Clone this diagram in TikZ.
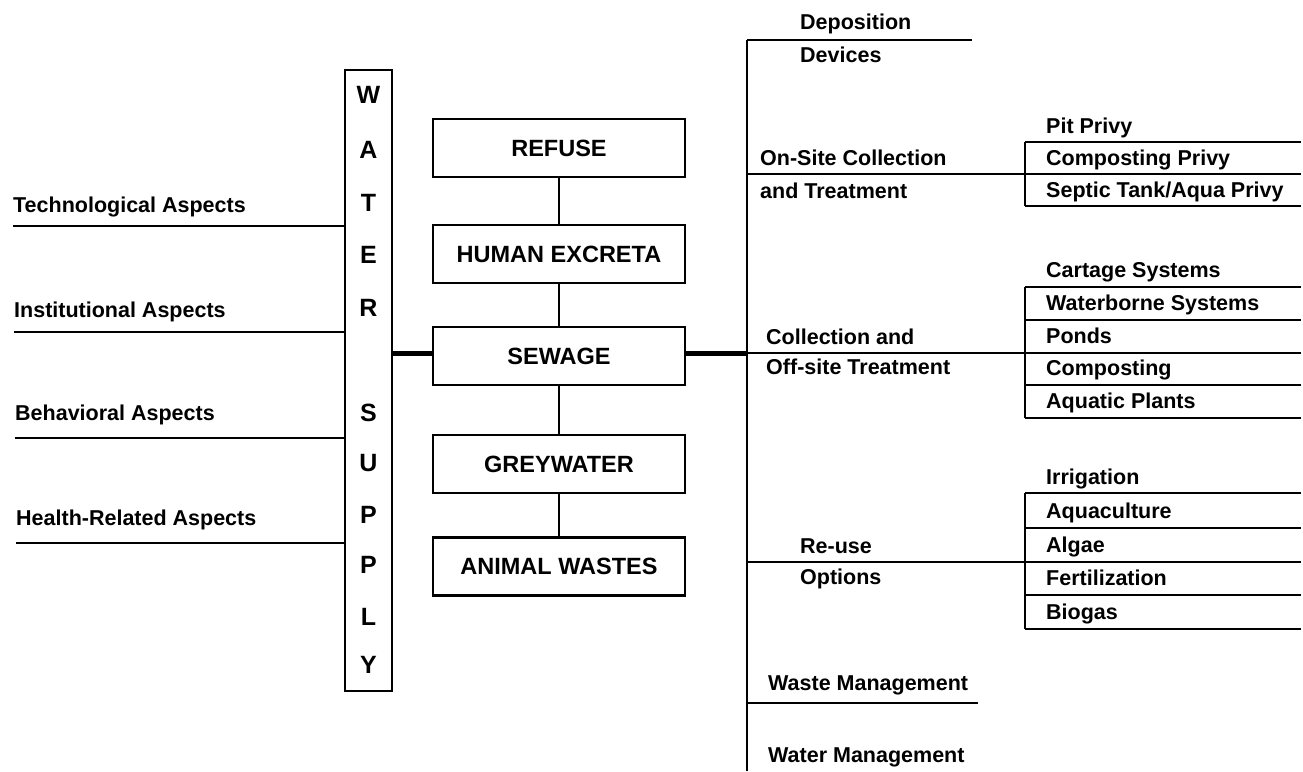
\documentclass[tikz,border=0pt]{standalone}
\usepackage{fontspec}
\setmainfont{Liberation Sans}
\newcommand{\lblfont}{\bfseries\fontsize{21.5}{24}\selectfont}
\newcommand{\boxfont}{\bfseries\fontsize{23.5}{26}\selectfont}
\newcommand{\wsfont}{\bfseries\fontsize{25}{28}\selectfont}
\begin{document}
\begin{tikzpicture}[x=1pt,y=-1pt,
  lbl/.style={font=\lblfont, inner sep=0pt, anchor=base west},
  ln/.style={line width=2pt},
  thk/.style={line width=5pt},
  boxn/.style={draw, line width=2.5pt, minimum width=252pt, minimum height=58pt, font=\boxfont, inner sep=0pt},
  wsbox/.style={draw, line width=2.5pt, minimum width=47pt, minimum height=621pt, inner sep=0pt},
  wsl/.style={font=\wsfont, inner sep=0pt}]
\useasboundingbox (0,0) rectangle (1303,771);

% WATER SUPPLY column
\node[wsbox] (ws) at (368.5,380.5) {};
\foreach \c/\yy [count=\i] in {W/95,A/150,T/203,E/255,R/308,S/413,U/463,P/515,P/565,L/617,Y/665}
  \node[wsl] (wl\i) at (368.5,\yy) {\c};

% left aspects
\node[lbl] (tech) at (13,212) {Technological Aspects};
\node[lbl] (inst) at (14,317) {Institutional Aspects};
\node[lbl] (behv) at (15,420) {Behavioral Aspects};
\node[lbl] (hlth) at (16,525) {Health-Related Aspects};
\coordinate (techL) at (13,226);
\coordinate (instL) at (14,332);
\coordinate (behvL) at (15,438);
\coordinate (hlthL) at (16,543);
\foreach \n in {techL,instL,behvL,hlthL}
  \draw[ln] (\n) -- (\n -| ws.west);

% centre boxes
\node[boxn] (refuse) at (559,148) {REFUSE};
\node[boxn] (human) at (559,254) {HUMAN EXCRETA};
\node[boxn] (sewage) at (559,356) {SEWAGE};
\node[boxn] (grey) at (559,464) {GREYWATER};
\node[boxn] (animal) at (559,566.5) {ANIMAL WASTES};
\draw[ln] (refuse) -- (human);
\draw[ln] (human) -- (sewage);
\draw[ln] (sewage) -- (grey);
\draw[ln] (grey) -- (animal);

% spine
\coordinate (spT) at (747,40);
\coordinate (spB) at (747,771);
\draw[ln] (spT) -- (spB);
\draw[thk] ([yshift=3pt]sewage.west) -- ([yshift=3pt]sewage.west -| ws.east);
\draw[thk] ([yshift=3pt]sewage.east) -- ([yshift=3pt]sewage.east -| spT);

% Deposition devices
\node[lbl] (dep1) at (800,29) {Deposition};
\node[lbl] (dep2) at (800,62) {Devices};
\coordinate (depE) at (972,40);
\draw[ln] (spT) -- (depE);

% right edge reference
\coordinate (rE) at (1301,0);

% On-site
\node[lbl] (os1) at (760,165) {On-Site Collection};
\node[lbl] (os2) at (760,198) {and Treatment};
\coordinate (osM) at (747,174);
\coordinate (osT) at (1025,142);
\coordinate (osB) at (1025,206);
\draw[ln] (osM) -- (osM -| rE);
\draw[ln] (osT) -- (osB);
\draw[ln] (osT) -- (osT -| rE);
\draw[ln] (osB) -- (osB -| rE);
\node[lbl] (pit) at (1046,133) {Pit Privy};
\node[lbl] (cpv) at (1046,165) {Composting Privy};
\node[lbl] (sep) at (1046,197) {Septic Tank/Aqua Privy};

% Collection and off-site
\node[lbl] (co1) at (766,344) {Collection and};
\node[lbl] (co2) at (766,374) {Off-site Treatment};
\coordinate (coM) at (747,353);
\coordinate (coT) at (1025,287);
\coordinate (coB) at (1025,418);
\draw[ln] (coM) -- (coM -| rE);
\draw[ln] (coT) -- (coB);
\foreach \yy in {287,320,385,418}
  \draw[ln] (1025,\yy) -- (rE |- 0,\yy);
\node[lbl] (cart) at (1046,277) {Cartage Systems};
\node[lbl] (wbs) at (1046,310) {Waterborne Systems};
\node[lbl] (pond) at (1046,343) {Ponds};
\node[lbl] (comp) at (1046,375) {Composting};
\node[lbl] (aqp) at (1046,408) {Aquatic Plants};

% Re-use
\node[lbl] (ru1) at (800,553) {Re-use};
\node[lbl] (ru2) at (800,584) {Options};
\coordinate (ruM) at (747,562);
\coordinate (ruT) at (1025,493);
\coordinate (ruB) at (1025,629);
\draw[ln] (ruM) -- (ruM -| rE);
\draw[ln] (ruT) -- (ruB);
\foreach \yy in {493,528,595,629}
  \draw[ln] (1025,\yy) -- (rE |- 0,\yy);
\node[lbl] (irr) at (1046,484) {Irrigation};
\node[lbl] (aqc) at (1046,518) {Aquaculture};
\node[lbl] (alg) at (1046,552) {Algae};
\node[lbl] (fert) at (1046,585) {Fertilization};
\node[lbl] (bio) at (1046,619) {Biogas};

% Waste / Water management
\node[lbl] (wam) at (768,690) {Waste Management};
\coordinate (waL) at (747,703);
\coordinate (waE) at (978,703);
\draw[ln] (waL) -- (waE);
\node[lbl] (wtm) at (768,762) {Water Management};
\end{tikzpicture}
\end{document}
